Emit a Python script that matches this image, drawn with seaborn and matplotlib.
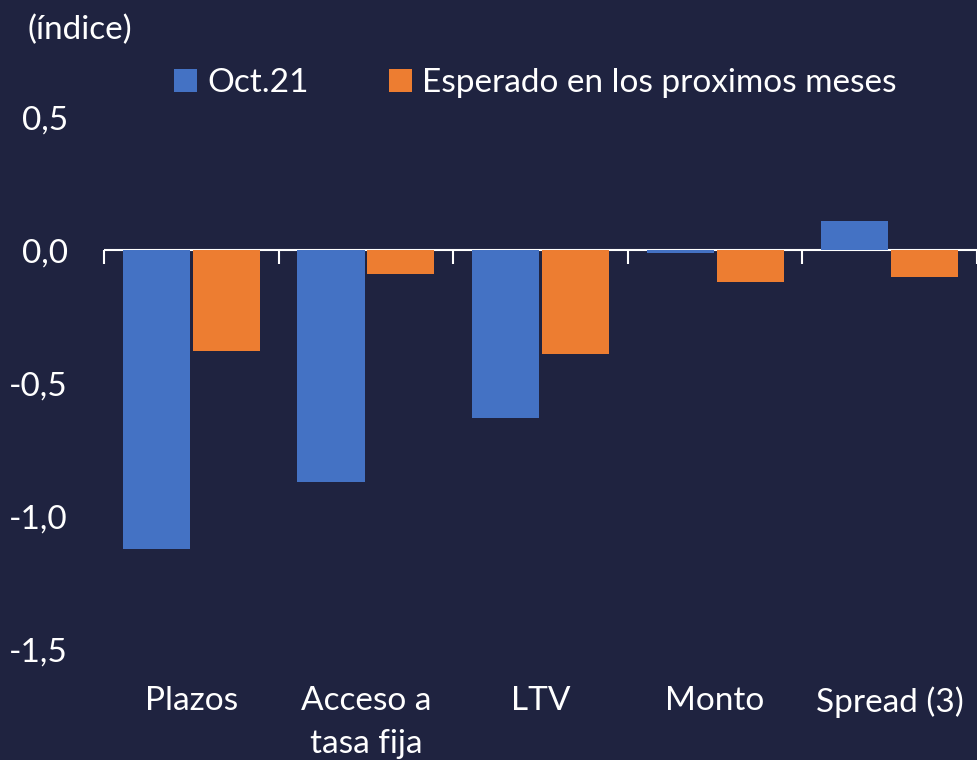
import pandas as pd
import numpy as np
import matplotlib
matplotlib.use("Agg")
import matplotlib.pyplot as plt
import seaborn as sns

categorias = ["Plazos", "Acceso a\ntasa fija", "LTV", "Monto", "Spread (3)"]
oct21 = [-1.12, -0.87, -0.63, -0.012, 0.11]
esperado = [-0.38, -0.09, -0.39, -0.12, -0.10]
series = ["Oct.21", "Esperado en los proximos meses"]
yticks = [0.5, 0.0, -0.5, -1.0, -1.5]
ytick_labels = ["0,5", "0,0", "-0,5", "-1,0", "-1,5"]

bg = "#1F2340"
blue = "#4472C4"
orange = "#ED7D31"

df = pd.DataFrame({
    "cat": categorias * 2,
    "val": oct21 + esperado,
    "serie": [series[0]] * len(categorias) + [series[1]] * len(categorias),
})

sns.set_style("dark")
plt.rcParams["font.family"] = ["Lato", "DejaVu Sans"]
fs = 24

fig = plt.figure(figsize=(9.77, 7.6), dpi=100, facecolor=bg)
ax = fig.add_axes([0.1065, 0.145, 0.8935, 0.701])
ax.set_facecolor(bg)

sns.barplot(data=df, x="cat", y="val", hue="serie", palette=[blue, orange],
            saturation=1, width=0.8, gap=0.04, linewidth=0, ax=ax, legend=True)

ymin, ymax = -1.5, 0.5
ax.set_ylim(ymin, ymax)
ax.set_xlim(-0.5, len(categorias) - 0.5)
ax.set_yticks(yticks)
ax.set_yticklabels(ytick_labels)
ax.tick_params(axis="y", length=0, pad=26, colors="white", labelsize=fs)
ax.tick_params(axis="x", length=0, pad=26, colors="white", labelsize=fs)
for lab in ax.get_xticklabels():
    lab.set_linespacing(1.55)
ax.set_xlabel("")
ax.set_ylabel("")
ax.grid(False)
for s in ax.spines.values():
    s.set_visible(False)

# axis line at zero with ticks between categories
ax.axhline(0, color="white", linewidth=1.5, zorder=0.5)
zero_pos = (0 - ymin) / (ymax - ymin)
sec = ax.secondary_xaxis(zero_pos)
sec.set_xticks(np.arange(-0.5, len(categorias), 1.0))
sec.tick_params(axis="x", which="both", direction="in", length=10, width=1.5, color="white",
                labeltop=False, labelbottom=False)
for k, s in sec.spines.items():
    s.set_visible(False)

leg = ax.legend(loc="lower left", bbox_to_anchor=(0.065, 1.01), ncol=2, frameon=False,
                fontsize=fs, handlelength=0.7, handleheight=0.7, handletextpad=0.3,
                columnspacing=2.4, labelcolor="white", borderaxespad=0)

fig.text(0.028, 0.96, "(índice)", color="white", fontsize=fs, va="center", ha="left")

fig.savefig("out.png", dpi=100, facecolor=bg)
